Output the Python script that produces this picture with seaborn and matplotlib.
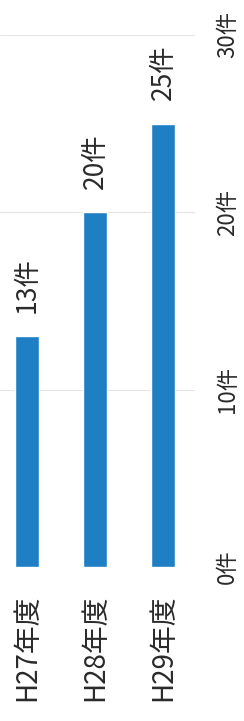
import matplotlib
matplotlib.use("Agg")
import matplotlib.pyplot as plt
import seaborn as sns
import pandas as pd

categories = ["H27年度", "H28年度", "H29年度"]
values = [13, 20, 25]
value_labels = ["13件", "20件", "25件"]
tick_values = [0, 10, 20, 30]
tick_labels = ["0件", "10件", "20件", "30件"]

sns.set_theme(style="white")
plt.rcParams['font.family'] = ['Noto Sans CJK JP', 'DejaVu Sans']

W, H = 244, 721
fig = plt.figure(figsize=(W / 100, H / 100), dpi=100)
fig.patch.set_facecolor("white")
ax = fig.add_axes([0 / W, 154 / H, 195 / W, 532 / H])

df = pd.DataFrame({"cat": categories, "val": values})
sns.barplot(data=df, x="cat", y="val", color="#1f7fc4", saturation=1,
            width=0.35, ax=ax)

ax.set_xlim(-0.4, 2.47)
ax.set_ylim(0, 30)
ax.set_yticks(tick_values)
ax.set_yticklabels(tick_labels, rotation=90, va="center", ha="left",
                   fontsize=16, color="#2a2a2a")
ax.yaxis.tick_right()
ax.tick_params(axis="y", length=0, pad=15)
ax.set_xticks(range(len(categories)))
ax.set_xticklabels(categories, rotation=90, va="top", ha="center",
                   fontsize=20, color="#2a2a2a")
ax.tick_params(axis="x", length=0, pad=20)
ax.set_xlabel("")
ax.set_ylabel("")
for s in ax.spines.values():
    s.set_visible(False)
ax.yaxis.grid(True, color="#e4e4e4", linewidth=0.8)
ax.set_axisbelow(True)

ax.bar_label(ax.containers[0], labels=value_labels, rotation=90,
             padding=17, fontsize=19, color="#2a2a2a")

fig.savefig("out.png", dpi=100, facecolor="white")
